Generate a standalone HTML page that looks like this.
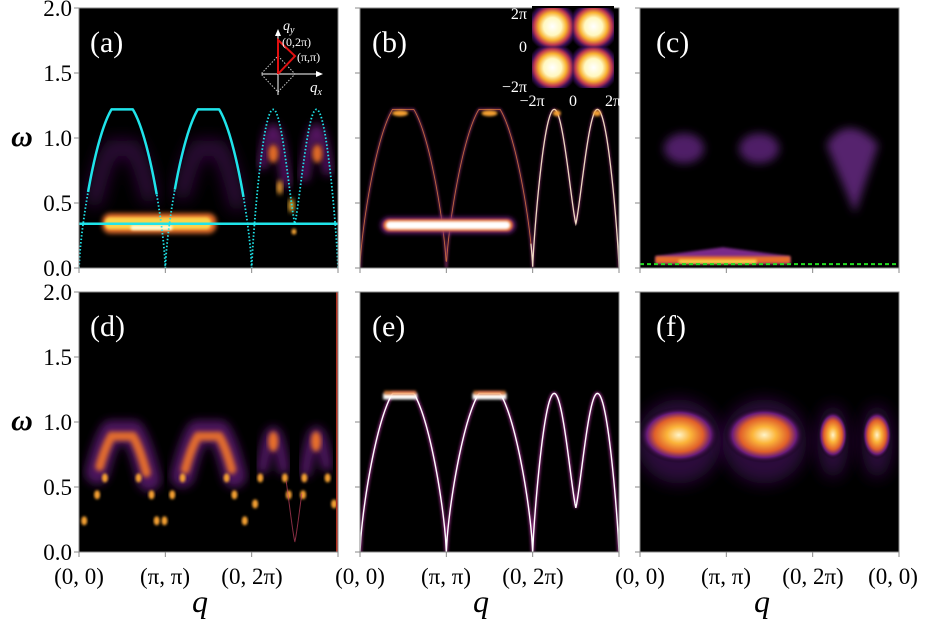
<!DOCTYPE html>
<html><head><meta charset="utf-8"><style>
html,body{margin:0;padding:0;background:#fff;width:925px;height:621px;overflow:hidden}
svg{display:block}
svg text{font-family:"Liberation Serif","DejaVu Serif",serif !important}
</style></head><body>
<svg id="s" width="925" height="621" viewBox="0 0 925 621" xmlns="http://www.w3.org/2000/svg" style="font-family:'Liberation Serif','DejaVu Serif',serif">
<defs>
<filter id="b1" x="-20%" y="-80%" width="140%" height="260%"><feGaussianBlur stdDeviation="1.2"/></filter>
<filter id="b2" x="-20%" y="-80%" width="140%" height="260%"><feGaussianBlur stdDeviation="2.5"/></filter>
<filter id="b4" x="-30%" y="-80%" width="160%" height="260%"><feGaussianBlur stdDeviation="4.5"/></filter>
<filter id="b8" x="-30%" y="-80%" width="160%" height="260%"><feGaussianBlur stdDeviation="8"/></filter>
<radialGradient id="rg" cx="50%" cy="50%" r="62%">
<stop offset="0" stop-color="#fff"/><stop offset="0.35" stop-color="#fff8c0"/><stop offset="0.55" stop-color="#f8b030"/><stop offset="0.72" stop-color="#c03a50"/><stop offset="0.85" stop-color="#3a0e55"/><stop offset="1" stop-color="#000"/></radialGradient>
<radialGradient id="fg" cx="50%" cy="50%" r="50%">
<stop offset="0" stop-color="#fff4c8"/><stop offset="0.3" stop-color="#fbb43a"/><stop offset="0.6" stop-color="#e0602a"/><stop offset="0.8" stop-color="#6a1c7a"/><stop offset="1" stop-color="#000" stop-opacity="0"/></radialGradient>
<clipPath id="ca"><rect x="79" y="8" width="259" height="260"/></clipPath>
<clipPath id="cb"><rect x="360" y="8" width="259" height="260"/></clipPath>
<clipPath id="cc"><rect x="640" y="8" width="259" height="260"/></clipPath>
<clipPath id="cd"><rect x="79" y="292" width="259" height="260"/></clipPath>
<clipPath id="ce"><rect x="360" y="292" width="259" height="260"/></clipPath>
<clipPath id="cf"><rect x="640" y="292" width="259" height="260"/></clipPath>
</defs>
<g id="panels"></g>
<g id="axes" stroke="#888" stroke-width="1" fill="none"></g>
<g fill="#000" font-size="23">
<text x="72" y="16" text-anchor="end">2.0</text>
<text x="72" y="81" text-anchor="end">1.5</text>
<text x="72" y="146" text-anchor="end">1.0</text>
<text x="72" y="211" text-anchor="end">0.5</text>
<text x="72" y="276" text-anchor="end">0.0</text>
<text x="72" y="300" text-anchor="end">2.0</text>
<text x="72" y="365" text-anchor="end">1.5</text>
<text x="72" y="430" text-anchor="end">1.0</text>
<text x="72" y="495" text-anchor="end">0.5</text>
<text x="72" y="560" text-anchor="end">0.0</text>
<text x="22" y="146" font-size="30" font-style="italic" font-weight="bold" text-anchor="middle">ω</text>
<text x="22" y="430" font-size="30" font-style="italic" font-weight="bold" text-anchor="middle">ω</text>
<text x="79" y="584" text-anchor="middle">(0, 0)</text>
<text x="165" y="584" text-anchor="middle">(π, π)</text>
<text x="252" y="584" text-anchor="middle">(0, 2π)</text>
<text x="360" y="584" text-anchor="middle">(0, 0)</text>
<text x="446" y="584" text-anchor="middle">(π, π)</text>
<text x="533" y="584" text-anchor="middle">(0, 2π)</text>
<text x="640" y="584" text-anchor="middle">(0, 0)</text>
<text x="726" y="584" text-anchor="middle">(π, π)</text>
<text x="813" y="584" text-anchor="middle">(0, 2π)</text>
<text x="893" y="584" text-anchor="middle">(0, 0)</text>
<text x="200" y="612" font-size="32" font-style="italic" text-anchor="middle">q</text>
<text x="481" y="612" font-size="32" font-style="italic" text-anchor="middle">q</text>
<text x="762" y="612" font-size="32" font-style="italic" text-anchor="middle">q</text>
</g>
<g fill="#fff" font-size="30">
<text x="90" y="52">(a)</text>
<text x="372" y="52">(b)</text>
<text x="656" y="52">(c)</text>
<text x="90" y="336">(d)</text>
<text x="372" y="336">(e)</text>
<text x="656" y="336">(f)</text>
</g>
<g>
<polygon points="278,56 295,74 278,92 261,74" fill="none" stroke="#ccc" stroke-width="1" stroke-dasharray="1.5,1.5"/>
<line x1="262" y1="74" x2="320" y2="74" stroke="#fff" stroke-width="1"/>
<polygon points="323,74 316,71 316,77" fill="#fff"/>
<line x1="278" y1="95" x2="278" y2="32" stroke="#fff" stroke-width="1"/>
<polygon points="278,29 275,36 281,36" fill="#fff"/>
<polyline points="278,74 278,40 295,56 278,74" fill="none" stroke="#e01010" stroke-width="2"/>
<text x="283" y="30" fill="#fff" font-size="14" font-style="italic">q<tspan font-size="10" dy="3">y</tspan></text>
<text x="282" y="46" fill="#fff" font-size="12">(0,2π)</text>
<text x="297" y="61" fill="#fff" font-size="12">(π,π)</text>
<text x="310" y="92" fill="#fff" font-size="15" font-style="italic">q<tspan font-size="10" dy="3">x</tspan></text>
</g>
<g>
<rect x="532" y="6" width="82" height="82" fill="#000"/>
<g clip-path="url(#cb)">
<rect x="532" y="6" width="41" height="41" fill="url(#rg)"/>
<rect x="573" y="6" width="41" height="41" fill="url(#rg)"/>
<rect x="532" y="47" width="41" height="41" fill="url(#rg)"/>
<rect x="573" y="47" width="41" height="41" fill="url(#rg)"/>
</g>
<g fill="#fff" font-size="16">
<text x="527" y="19" text-anchor="end">2π</text>
<text x="527" y="52" text-anchor="end">0</text>
<text x="527" y="92" text-anchor="end">−2π</text>
<text x="532" y="106" text-anchor="middle">−2π</text>
<text x="573" y="106" text-anchor="middle">0</text>
<text x="613" y="106" text-anchor="middle">2π</text>
</g>
</g>
</svg>
<script>
var NS="http://www.w3.org/2000/svg";
var P=document.getElementById('panels'),A=document.getElementById('axes');
function el(tag,at,par){var e=document.createElementNS(NS,tag);for(var k in at){if(at[k]!==null)e.setAttribute(k,at[k]);}(par||P).appendChild(e);return e;}
function disp(t){
 if(t<2/3){var u=t<1/3?t*3:t*3-1;return 1.22*Math.pow(Math.min(1,1.08*Math.sin(Math.PI*u)),0.7);}
 var u=(t-2/3)*3;var s=u<0.5?u*2:(1-u)*2;
 return s<0.5?1.22*Math.pow(Math.sin(Math.PI*s),0.8):0.34+0.88*Math.pow(Math.sin(Math.PI*s),1.2);}
function path(X0,Y0,f,t0,t1,n){n=n||300;var d="";for(var i=0;i<=n;i++){var t=t0+(t1-t0)*i/n;var w=f(t);d+=(i?"L":"M")+(X0+t*259).toFixed(2)+","+(Y0+260-w*130).toFixed(2);}return d;}
var panels=[[79,8,'ca'],[360,8,'cb'],[640,8,'cc'],[79,292,'cd'],[360,292,'ce'],[640,292,'cf']];
var G={};
panels.forEach(function(p,i){el('rect',{x:p[0],y:p[1],width:259,height:260,fill:'#000'});G[i]=el('g',{'clip-path':'url(#'+p[2]+')'});
 el('rect',{x:p[0],y:p[1],width:259,height:260},A);
 [0,1/3,2/3,1].forEach(function(f){var x=p[0]+f*259;el('line',{x1:x,y1:p[1]+260,x2:x,y2:p[1]+265},A);});
 [0,65,130,195,260].forEach(function(d){el('line',{x1:p[0]-5,y1:p[1]+d,x2:p[0],y2:p[1]+d},A);});
});
function X(p,t){return panels[p][0]+t*259}function Y(p,w){return panels[p][1]+260-w*130}
function curve(p,f,t0,t1,col,w,flt,op,extra){var a={d:path(panels[p][0],panels[p][1],f,t0,t1),fill:'none',stroke:col,'stroke-width':w,'stroke-linecap':'round','stroke-opacity':op||1};if(flt)a.filter='url(#'+flt+')';for(var k in extra)a[k]=extra[k];return el('path',a,G[p]);}
function blob(p,t,w,rx,ry,col,flt,op){return el('ellipse',{cx:X(p,t),cy:Y(p,w),rx:rx,ry:ry,fill:col,'fill-opacity':op||1,filter:flt?'url(#'+flt+')':null},G[p]);}
function shift(dw){return function(t){return disp(t)+dw}}
// Panel a
curve(0,shift(-0.3),0.06,0.27,'#5a1a6e',16,'b8',0.55);
curve(0,shift(-0.3),0.40,0.61,'#5a1a6e',16,'b8',0.55);
curve(0,shift(-0.15),0.71,0.8,'#6a1c7a',10,'b4',0.8);
curve(0,shift(-0.15),0.87,0.96,'#6a1c7a',10,'b4',0.8);
blob(0,0.75,0.88,5,9,'#e06a28','b2');blob(0,0.92,0.88,5,9,'#e06a28','b2');
blob(0,0.775,0.62,3,7,'#f0a030','b2');blob(0,0.82,0.48,3,7,'#f0b030','b2');blob(0,0.83,0.28,2.5,3,'#f0a030','b1');
el('rect',{x:X(0,0.09),y:Y(0,0.42),width:X(0,0.53)-X(0,0.09),height:20,rx:8,fill:'#e8702a',filter:'url(#b2)'},G[0]);
el('rect',{x:X(0,0.1),y:Y(0,0.39),width:X(0,0.51)-X(0,0.1),height:12,rx:5,fill:'#fbd24a',filter:'url(#b1)'},G[0]);
el('rect',{x:X(0,0.2),y:Y(0,0.33),width:X(0,0.36)-X(0,0.2),height:5,rx:2,fill:'#fff8d0',filter:'url(#b1)'},G[0]);
curve(0,disp,0,1,'#1fe4ea',1.8,null,1,{'stroke-dasharray':'1.5,2','stroke-linecap':'butt'});
[[0.035,0.3],[0.37,0.635]].forEach(function(r){curve(0,disp,r[0],r[1],'#1fe4ea',2.5,null,1,{'stroke-linecap':'butt'})});
el('line',{x1:79,x2:338,y1:Y(0,0.34),y2:Y(0,0.34),stroke:'#1fe4ea','stroke-width':2.5},G[0]);
// Panel b
curve(1,disp,0,1,'#8a2a6a',2.2,'b1',0.8);
curve(1,disp,0.66,1,'#fff0d0',1.3,null,0.9);
curve(1,disp,0,0.66,'#e07a40',0.9,null,0.8);
blob(1,0.155,1.19,8,3,'#f5a030','b1');blob(1,0.5,1.19,8,3,'#f5a030','b1');
blob(1,0.76,1.19,4,3,'#f5a030','b1');blob(1,0.915,1.19,4,3,'#f5a030','b1');
el('rect',{x:X(1,0.08),y:Y(1,0.39),width:X(1,0.6)-X(1,0.08),height:16,rx:8,fill:'#6a1c7a',filter:'url(#b2)'},G[1]);
el('rect',{x:X(1,0.09),y:Y(1,0.375),width:X(1,0.59)-X(1,0.09),height:12,rx:6,fill:'#e8702a',filter:'url(#b1)'},G[1]);
el('rect',{x:X(1,0.1),y:Y(1,0.36),width:X(1,0.58)-X(1,0.1),height:8,rx:4,fill:'#fff',filter:'url(#b1)'},G[1]);
// Panel c
blob(2,0.17,0.92,20,15,'#6a2a8a','b4',0.75);blob(2,0.46,0.92,20,15,'#6a2a8a','b4',0.75);
el('path',{d:'M'+X(2,0.72)+','+Y(2,0.95)+'Q'+X(2,0.8)+','+Y(2,1.2)+' '+X(2,0.92)+','+Y(2,0.95)+'L'+X(2,0.83)+','+Y(2,0.42)+'Z',fill:'#6a2a8a','fill-opacity':0.8,filter:'url(#b4)'},G[2]);
el('polygon',{points:X(2,0.06)+','+Y(2,0.03)+' '+X(2,0.58)+','+Y(2,0.03)+' '+X(2,0.58)+','+Y(2,0.09)+' '+X(2,0.32)+','+Y(2,0.16)+' '+X(2,0.06)+','+Y(2,0.09),fill:'#7a2a8a',filter:'url(#b1)'},G[2]);
el('rect',{x:X(2,0.06),y:Y(2,0.09),width:X(2,0.58)-X(2,0.06),height:7,fill:'#e8702a',filter:'url(#b1)'},G[2]);
el('rect',{x:X(2,0.15),y:Y(2,0.065),width:X(2,0.45)-X(2,0.15),height:4,fill:'#fbd24a',filter:'url(#b1)'},G[2]);
el('line',{x1:640,x2:899,y1:Y(2,0.03),y2:Y(2,0.03),stroke:'#22dd22','stroke-width':2,'stroke-dasharray':'4,3'},G[2]);
// Panel d
curve(3,shift(-0.3),0.07,0.27,'#5a1a6e',24,'b4',0.85);
curve(3,shift(-0.3),0.40,0.60,'#5a1a6e',24,'b4',0.85);
curve(3,shift(-0.33),0.08,0.26,'#e8702a',9,'b2',0.95);
curve(3,shift(-0.33),0.41,0.59,'#e8702a',9,'b2',0.95);
curve(3,shift(-0.3),0.71,0.79,'#5a1a6e',12,'b4',0.85);curve(3,shift(-0.3),0.875,0.955,'#5a1a6e',12,'b4',0.85);
blob(3,0.75,0.85,5,10,'#e8702a','b2');blob(3,0.915,0.85,5,10,'#e8702a','b2');
[[0.02,0.24],[0.07,0.44],[0.1,0.57],[0.23,0.57],[0.28,0.44],[0.3,0.24],[0.33,0.24],[0.36,0.44],[0.4,0.57],[0.57,0.57],[0.6,0.44],[0.64,0.24],[0.68,0.37],[0.7,0.57],[0.795,0.57],[0.81,0.44],[0.865,0.44],[0.87,0.57],[0.96,0.57],[0.985,0.37]].forEach(function(q){blob(3,q[0],q[1],3,4.5,'#f5a030','b1');});
curve(3,function(t){return Math.max(0.08,disp(t)-0.26)},0.8,0.86,'#c04060',1,null,0.7);
el('rect',{x:336,y:292,width:3,height:260,fill:'#b03020'},G[3]);
// Panel e
curve(4,disp,0,1,'#8a2a7a',3.5,'b1',0.9);
curve(4,disp,0,1,'#fff',1.4,null,1);
[0.155,0.5].forEach(function(t){el('rect',{x:X(4,t)-17,y:Y(4,1.22),width:34,height:6,fill:'#fff',filter:'url(#b1)'},G[4]);el('rect',{x:X(4,t)-16,y:Y(4,1.24),width:32,height:4,fill:'#f08a40','fill-opacity':0.8,filter:'url(#b1)'},G[4]);});
// Panel f
[[0.15,40,28],[0.48,40,28],[0.745,15,24],[0.915,15,24]].forEach(function(q){
 el('ellipse',{cx:X(5,q[0]),cy:Y(5,0.85),rx:q[1]*1.05,ry:q[2]*1.5,fill:'#4a1264','fill-opacity':0.6,filter:'url(#b8)'},G[5]);
 el('ellipse',{cx:X(5,q[0]),cy:Y(5,0.9),rx:q[1],ry:q[2],fill:'url(#fg)'},G[5]);});
</script>
</body></html>
